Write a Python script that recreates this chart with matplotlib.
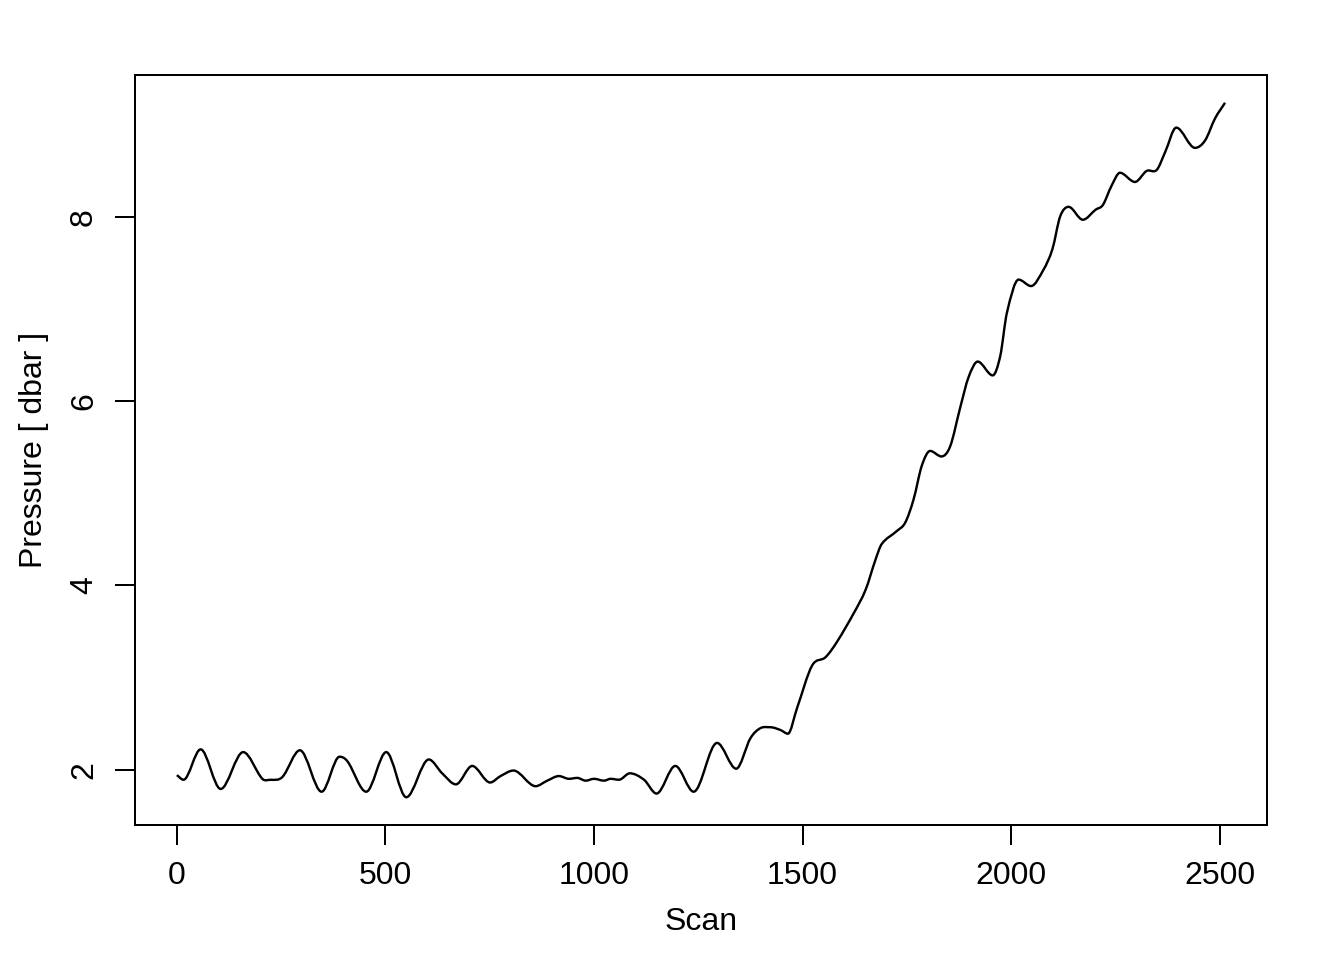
import matplotlib
matplotlib.use("Agg")
import matplotlib.pyplot as plt
from matplotlib.path import Path
from matplotlib.patches import PathPatch

# Pressure trace (scan index, dbar)
scan = [0, 16, 57, 105, 159, 205, 225, 253, 295, 347, 390, 409, 454, 502, 550,
        604, 636, 669, 708, 751, 776, 807, 860, 888, 916, 940, 960, 980, 1000,
        1024, 1040, 1060, 1086, 1120, 1150, 1195, 1239, 1295, 1341, 1375, 1399,
        1423, 1447, 1465, 1487, 1523, 1555, 1583, 1623, 1651, 1675, 1690, 1726,
        1746, 1766, 1786, 1806, 1833, 1854, 1878, 1898, 1920, 1956, 1974, 1990,
        2018, 2048, 2078, 2099, 2118, 2138, 2172, 2203, 2220, 2241, 2261, 2297,
        2325, 2349, 2369, 2396, 2441, 2465, 2489, 2513]
pressure = [1.94, 1.89, 2.22, 1.79, 2.19, 1.90, 1.89, 1.92, 2.21, 1.76, 2.14, 2.09,
            1.76, 2.19, 1.70, 2.11, 1.96, 1.84, 2.04, 1.86, 1.93, 1.99, 1.82, 1.88,
            1.93, 1.90, 1.91, 1.88, 1.90, 1.88, 1.90, 1.89, 1.96, 1.89, 1.74, 2.04,
            1.76, 2.29, 2.01, 2.34, 2.45, 2.46, 2.43, 2.39, 2.67, 3.13, 3.22, 3.39,
            3.70, 3.95, 4.28, 4.45, 4.59, 4.68, 4.93, 5.30, 5.46, 5.40, 5.51, 5.93,
            6.26, 6.43, 6.28, 6.49, 6.96, 7.32, 7.25, 7.43, 7.65, 8.01, 8.11, 7.97,
            8.08, 8.13, 8.34, 8.48, 8.38, 8.50, 8.51, 8.70, 8.97, 8.75, 8.83, 9.07,
            9.24]

x_ticks = [0, 500, 1000, 1500, 2000, 2500]
y_ticks = [2, 4, 6, 8]


# smooth curve through the read points (cubic Bezier segments, flat at extrema)
def smooth_path(xs, ys):
    n = len(xs)
    slopes = []
    for i in range(n):
        if i == 0:
            m = (ys[1] - ys[0]) / (xs[1] - xs[0])
        elif i == n - 1:
            m = (ys[-1] - ys[-2]) / (xs[-1] - xs[-2])
        elif (ys[i] - ys[i - 1]) * (ys[i + 1] - ys[i]) <= 0:
            m = 0.0
        else:
            m = (ys[i + 1] - ys[i - 1]) / (xs[i + 1] - xs[i - 1])
        slopes.append(m)
    verts = [(xs[0], ys[0])]
    codes = [Path.MOVETO]
    for i in range(n - 1):
        d = (xs[i + 1] - xs[i]) / 3
        verts += [(xs[i] + d, ys[i] + slopes[i] * d),
                  (xs[i + 1] - d, ys[i + 1] - slopes[i + 1] * d),
                  (xs[i + 1], ys[i + 1])]
        codes += [Path.CURVE4] * 3
    return Path(verts, codes)


plt.rcParams['font.family'] = ['Liberation Sans', 'DejaVu Sans']
plt.rcParams['font.size'] = 12

fig = plt.figure(figsize=(7, 5), dpi=192)
ax = fig.add_axes([0.1004, 0.1406, 0.8423, 0.7813])

ax.add_patch(PathPatch(smooth_path(scan, pressure), facecolor='none',
                       edgecolor='black', linewidth=0.9, joinstyle='round'))

# R-style 4% axis extension
xr = max(scan) - min(scan)
yr = max(pressure) - min(pressure)
ax.set_xlim(min(scan) - 0.04 * xr, max(scan) + 0.04 * xr)
ax.set_ylim(min(pressure) - 0.04 * yr, max(pressure) + 0.04 * yr)

ax.set_xticks(x_ticks)
ax.set_yticks(y_ticks)
ax.set_yticklabels([str(v) for v in y_ticks], rotation=90, va='center')
ax.tick_params(direction='out', length=7.5, width=0.75, pad=6)
for s in ax.spines.values():
    s.set_linewidth(0.75)

ax.set_xlabel('Scan')
ax.set_ylabel('Pressure [ dbar ]')
ax.xaxis.label.set_va('center')
ax.yaxis.label.set_va('center')
ax.xaxis.set_label_coords(0.5, -0.129)
ax.yaxis.set_label_coords(-0.0892, 0.5)

fig.savefig('out.png', dpi=192)
